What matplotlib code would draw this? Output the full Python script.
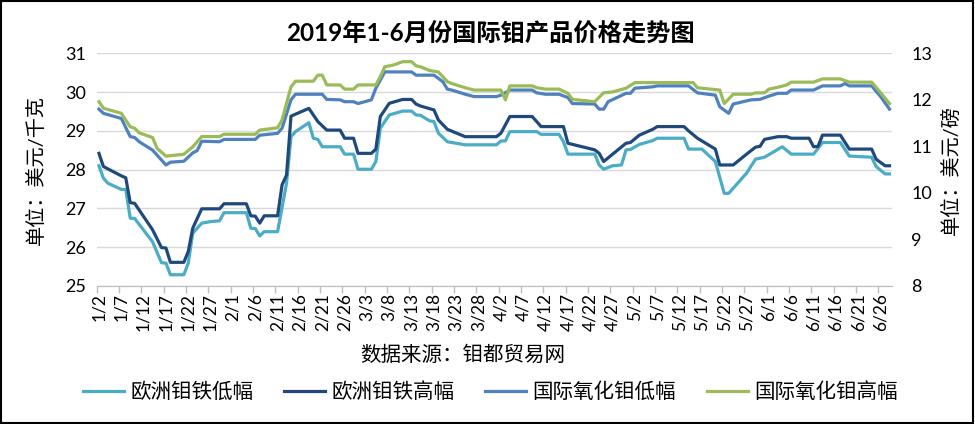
import matplotlib
matplotlib.use('Agg')
import matplotlib.pyplot as plt
import pandas as pd
from matplotlib.patches import Rectangle

plt.rcParams['font.family'] = ['Lato', 'Noto Sans CJK SC', 'DejaVu Sans']

# ------------------------------
# Data (points where the line changes)
# ------------------------------
# 欧洲钼铁高幅 (left axis, 美元/千克)
fe_high_dates = ['1/2', '1/3', '1/7', '1/8', '1/9', '1/10', '1/14', '1/16', '1/17', '1/18',
                 '1/21', '1/22', '1/23', '1/25', '1/29', '1/30', '2/4', '2/5', '2/6', '2/7',
                 '2/8', '2/11', '2/12', '2/13', '2/14', '2/15', '2/18', '2/20', '2/22', '2/25',
                 '2/26', '2/28', '3/1', '3/4', '3/5', '3/6', '3/8', '3/11', '3/13', '3/14',
                 '3/15', '3/18', '3/19', '3/21', '3/25', '4/1', '4/2', '4/4', '4/9', '4/11',
                 '4/16', '4/17', '4/23', '4/24', '4/25', '4/30', '5/1', '5/3', '5/6', '5/7',
                 '5/13', '5/14', '5/16', '5/20', '5/21', '5/24', '5/27', '5/29', '5/30', '5/31',
                 '6/3', '6/5', '6/6', '6/10', '6/11', '6/12', '6/13', '6/17', '6/19', '6/24',
                 '6/25', '6/27', '6/28']
fe_high = [28.42, 28.08, 27.84, 27.79, 27.15, 27.13, 26.45, 25.99, 25.98, 25.61,
           25.61, 25.89, 26.49, 26.99, 26.99, 27.12, 27.12, 26.81, 26.80, 26.62,
           26.81, 26.81, 27.61, 27.86, 29.38, 29.43, 29.58, 29.24, 29.02, 29.02,
           28.81, 28.81, 28.42, 28.42, 28.53, 29.37, 29.71, 29.81, 29.81, 29.69,
           29.64, 29.54, 29.28, 29.04, 28.85, 28.85, 28.94, 29.37, 29.37, 29.11,
           29.11, 28.68, 28.51, 28.42, 28.21, 28.68, 28.70, 28.89, 29.04, 29.11,
           29.11, 29.00, 28.81, 28.53, 28.12, 28.12, 28.40, 28.58, 28.60, 28.78,
           28.85, 28.85, 28.81, 28.81, 28.59, 28.60, 28.89, 28.89, 28.53, 28.53,
           28.27, 28.10, 28.10]

# 欧洲钼铁低幅 (left axis)
fe_low_dates = ['1/2', '1/3', '1/4', '1/7', '1/8', '1/9', '1/10', '1/14', '1/16', '1/17',
                '1/18', '1/21', '1/22', '1/23', '1/25', '1/27', '1/29', '1/30', '2/4', '2/5',
                '2/6', '2/7', '2/8', '2/11', '2/13', '2/14', '2/15', '2/18', '2/19', '2/20',
                '2/21', '2/25', '2/26', '2/28', '3/1', '3/4', '3/5', '3/6', '3/8', '3/11',
                '3/13', '3/14', '3/15', '3/17', '3/18', '3/19', '3/21', '3/22', '3/25', '4/1',
                '4/2', '4/3', '4/4', '4/10', '4/11', '4/15', '4/16', '4/17', '4/23', '4/24',
                '4/25', '4/27', '4/29', '4/30', '5/1', '5/3', '5/6', '5/7', '5/13', '5/14',
                '5/17', '5/20', '5/22', '5/23', '5/27', '5/29', '5/31', '6/4', '6/6', '6/11',
                '6/13', '6/17', '6/19', '6/24', '6/25', '6/27', '6/28']
fe_low = [28.10, 27.78, 27.65, 27.49, 27.49, 26.75, 26.74, 26.14, 25.60, 25.59,
          25.29, 25.29, 25.59, 26.36, 26.62, 26.66, 26.68, 26.89, 26.89, 26.49,
          26.48, 26.29, 26.40, 26.40, 27.65, 28.85, 28.98, 29.21, 28.81, 28.78,
          28.59, 28.59, 28.40, 28.40, 28.01, 28.01, 28.21, 29.07, 29.41, 29.51,
          29.51, 29.41, 29.40, 29.26, 29.24, 28.94, 28.72, 28.70, 28.64, 28.64,
          28.74, 28.74, 28.98, 28.98, 28.91, 28.91, 28.72, 28.40, 28.40, 28.12,
          28.01, 28.10, 28.12, 28.51, 28.52, 28.65, 28.75, 28.81, 28.81, 28.53,
          28.53, 28.21, 27.39, 27.39, 27.91, 28.27, 28.32, 28.59, 28.40, 28.40,
          28.70, 28.70, 28.35, 28.32, 28.08, 27.89, 27.89]

# 国际氧化钼低幅 (right axis, 美元/磅)
mo_low_dates = ['1/2', '1/3', '1/7', '1/9', '1/10', '1/11', '1/14', '1/17', '1/18', '1/21',
                '1/23', '1/24', '1/25', '1/29', '1/30', '2/6', '2/7', '2/11', '2/12', '2/14',
                '2/15', '2/21', '2/22', '2/25', '2/26', '2/28', '3/1', '3/4', '3/5', '3/7',
                '3/13', '3/14', '3/18', '3/20', '3/21', '3/22', '3/25', '3/27', '4/1', '4/2',
                '4/4', '4/9', '4/10', '4/12', '4/15', '4/17', '4/18', '4/23', '4/24', '4/25',
                '4/26', '4/30', '5/1', '5/2', '5/6', '5/7', '5/14', '5/16', '5/20', '5/21',
                '5/23', '5/24', '5/28', '5/30', '6/1', '6/3', '6/5', '6/6', '6/11', '6/13',
                '6/17', '6/18', '6/19', '6/24', '6/26', '6/28']
mo_low = [11.80, 11.71, 11.60, 11.21, 11.19, 11.10, 10.92, 10.60, 10.66, 10.68,
          10.86, 10.91, 11.11, 11.10, 11.15, 11.15, 11.24, 11.28, 11.39, 12.00,
          12.12, 12.12, 12.01, 12.00, 11.96, 11.96, 11.92, 12.00, 12.25, 12.60,
          12.60, 12.53, 12.53, 12.39, 12.23, 12.21, 12.12, 12.07, 12.07, 12.10,
          12.21, 12.21, 12.15, 12.12, 12.12, 12.05, 11.92, 11.91, 11.80, 11.80,
          11.96, 12.14, 12.14, 12.25, 12.28, 12.30, 12.30, 12.15, 12.10, 11.85,
          11.71, 11.91, 12.00, 12.01, 12.08, 12.14, 12.14, 12.21, 12.21, 12.30,
          12.30, 12.35, 12.30, 12.30, 12.07, 11.80]

# 国际氧化钼高幅 (right axis)
mo_high_dates = ['1/2', '1/3', '1/7', '1/9', '1/10', '1/11', '1/14', '1/15', '1/17', '1/21',
                 '1/23', '1/25', '1/29', '1/30', '2/6', '2/7', '2/11', '2/12', '2/14', '2/15',
                 '2/19', '2/20', '2/21', '2/22', '2/25', '2/26', '2/28', '3/1', '3/5', '3/6',
                 '3/7', '3/9', '3/11', '3/13', '3/14', '3/15', '3/17', '3/19', '3/21', '3/22',
                 '3/25', '3/27', '4/2', '4/3', '4/4', '4/9', '4/10', '4/12', '4/15', '4/17',
                 '4/18', '4/23', '4/25', '4/27', '4/30', '5/2', '5/15', '5/16', '5/21', '5/22',
                 '5/24', '5/28', '5/29', '5/31', '6/1', '6/3', '6/5', '6/6', '6/11', '6/13',
                 '6/17', '6/19', '6/24', '6/25', '6/28']
mo_high = [11.96, 11.82, 11.71, 11.42, 11.39, 11.29, 11.19, 10.96, 10.79, 10.83,
           10.99, 11.21, 11.21, 11.26, 11.26, 11.35, 11.40, 11.57, 12.28, 12.40,
           12.40, 12.53, 12.53, 12.32, 12.32, 12.23, 12.23, 12.32, 12.32, 12.50,
           12.71, 12.75, 12.82, 12.82, 12.73, 12.71, 12.63, 12.60, 12.39, 12.35,
           12.26, 12.21, 12.21, 12.00, 12.30, 12.30, 12.26, 12.23, 12.23, 12.14,
           12.01, 11.96, 12.15, 12.17, 12.25, 12.37, 12.37, 12.26, 12.21, 11.92,
           12.12, 12.12, 12.15, 12.15, 12.23, 12.27, 12.32, 12.38, 12.38, 12.45,
           12.45, 12.38, 12.38, 12.27, 11.92]


def to_dates(labels):
    # each day sits in the middle of its slot on the date axis
    return pd.to_datetime(['2019/' + s for s in labels], format='%Y/%m/%d') + pd.Timedelta(hours=12)


c_fe_low = '#4BACC6'
c_fe_high = '#1F497D'
c_mo_low = '#4F81BD'
c_mo_high = '#9BBB59'
grid_c = '#D9D9D9'

fig = plt.figure(figsize=(9.75, 4.24), dpi=100)
ax = fig.add_axes([0.0992, 0.3255, 0.8154, 0.5488])
ax2 = ax.twinx()

l1, = ax.plot(to_dates(fe_low_dates), fe_low, color=c_fe_low, lw=2.3, label='欧洲钼铁低幅')
l2, = ax.plot(to_dates(fe_high_dates), fe_high, color=c_fe_high, lw=2.3, label='欧洲钼铁高幅')
l3, = ax2.plot(to_dates(mo_low_dates), mo_low, color=c_mo_low, lw=2.3, label='国际氧化钼低幅')
l4, = ax2.plot(to_dates(mo_high_dates), mo_high, color=c_mo_high, lw=2.3, label='国际氧化钼高幅')

ax.set_xlim(pd.Timestamp('2019-01-02'), pd.Timestamp('2019-06-29'))
ax.set_ylim(25, 31)
ax2.set_ylim(8, 13)
ax.set_yticks(range(25, 32))
ax2.set_yticks(range(8, 14))

# x axis: tick marks at slot edges, labels centred in the slot
ticks = pd.date_range('2019-01-02', '2019-06-26', freq='5D')
ax.set_xticks(ticks)
ax.set_xticklabels([])
ax.set_xticks(ticks + pd.Timedelta(hours=12), minor=True)
ax.set_xticklabels([f'{t.month}/{t.day}' for t in ticks], minor=True, rotation=90,
                   fontsize=12.5)
ax.tick_params(axis='x', which='major', length=5, color='#BFBFBF', width=1)
ax.tick_params(axis='x', which='minor', length=0, pad=5)
ax.tick_params(axis='y', length=0, labelsize=13, pad=8)
ax2.tick_params(axis='y', length=0, labelsize=13, pad=14)

ax.yaxis.grid(True, color=grid_c, lw=1)
ax.set_axisbelow(True)
for a in (ax, ax2):
    for s in ('left', 'right', 'top'):
        a.spines[s].set_visible(False)
    a.spines['bottom'].set_color('#BFBFBF')

fig.text(0.503, 0.922, '2019年1-6月份国际钼产品价格走势图', ha='center', va='center',
         fontsize=17.5, fontweight='bold')
fig.text(0.036, 0.599, '单位：美元/千克', rotation=90, ha='center', va='center', fontsize=14.5)
fig.text(0.975, 0.599, '单位：美元/磅', rotation=90, ha='center', va='center', fontsize=14.5)
fig.text(0.475, 0.163, '数据来源：钼都贸易网', ha='center', va='center', fontsize=14.8)

fig.legend(handles=[l1, l2, l3, l4], loc='center', bbox_to_anchor=(0.503, 0.075), ncol=4,
           frameon=False, fontsize=14.8, handlelength=2.0, handletextpad=0.3,
           columnspacing=1.5)

fig.patches.append(Rectangle((0.001, 0.002), 0.997, 0.995, transform=fig.transFigure,
                             fill=False, edgecolor='black', lw=1.5))

fig.savefig('out.png', dpi=100)
